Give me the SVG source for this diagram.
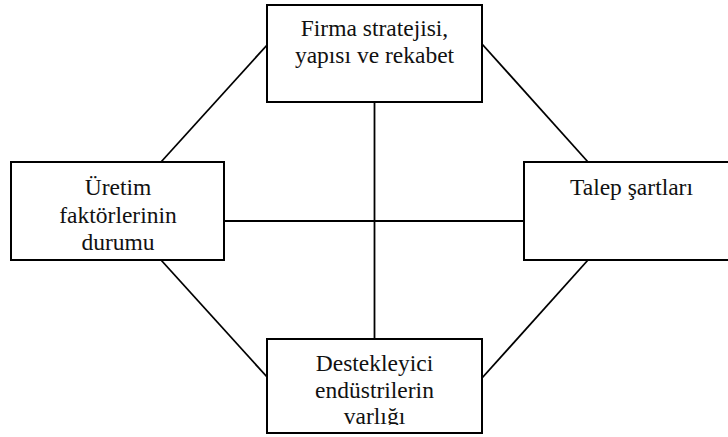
<svg xmlns="http://www.w3.org/2000/svg" width="728" height="437" viewBox="0 0 728 437">
<style>
.box{fill:#fff;stroke:#000;stroke-width:2}
.ln{stroke:#000;stroke-width:1.8;fill:none}
.t{font-family:"Liberation Serif","Times New Roman",serif;font-size:23.5px;fill:#111;text-anchor:middle}
</style>
<defs>
<clipPath id="clipB"><rect x="268" y="340" width="213" height="85"/></clipPath>
</defs>
<rect width="728" height="437" fill="#fff"/>
<g id="connectors">
<line class="ln" x1="268" y1="44" x2="161" y2="162"/>
<line class="ln" x1="482" y1="44" x2="588" y2="162"/>
<line class="ln" x1="161" y1="260" x2="268" y2="378"/>
<line class="ln" x1="588" y1="260" x2="482" y2="378"/>
<line class="ln" x1="224" y1="221" x2="524" y2="221"/>
<line class="ln" x1="374.5" y1="103" x2="374.5" y2="339"/>
</g>
<g id="node-top">
<rect class="box" x="267" y="5" width="215" height="97"/>
<text class="t" x="374.5" y="36">Firma stratejisi,</text>
<text class="t" x="374.5" y="63">yapısı ve rekabet</text>
</g>
<g id="node-left">
<rect class="box" x="11" y="162" width="213" height="98"/>
<text class="t" x="118" y="195">Üretim</text>
<text class="t" x="118" y="223">faktörlerinin</text>
<text class="t" x="118" y="250">durumu</text>
</g>
<g id="node-right">
<rect class="box" x="524" y="162" width="214" height="98"/>
<text class="t" x="631.5" y="195">Talep şartları</text>
</g>
<g id="node-bottom">
<rect class="box" x="267" y="339" width="215" height="94"/>
<g clip-path="url(#clipB)">
<text class="t" x="374.5" y="371">Destekleyici</text>
<text class="t" x="374.5" y="398">endüstrilerin</text>
<text class="t" x="374.5" y="424">varlığı</text>
</g>
</g>
</svg>
